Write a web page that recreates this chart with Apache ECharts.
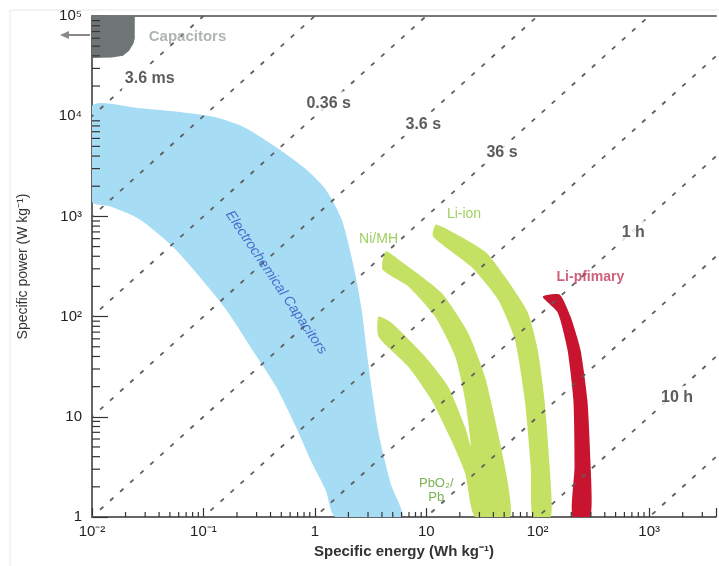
<!DOCTYPE html>
<html>
<head>
<meta charset="utf-8">
<script src="https://cdn.jsdelivr.net/npm/echarts@6/dist/echarts.min.js"></script>
<style>html,body{margin:0;padding:0;background:#fff}#c{width:719px;height:566px}</style>
</head>
<body>
<div id="c"></div>
<script>
// ---- axis tick labels ----
const xTickLabels = ['10\u207B\u00B2', '10\u207B\u00B9', '1', '10', '10\u00B2', '10\u00B3'];
const xTickExp0 = -2;
const yTickLabels = ['1', '10', '10\u00B2', '10\u00B3', '10\u2074', '10\u2075'];
const yTickExp0 = 0;
const minorMultipliers = [2, 3, 4, 5, 6, 7, 8, 9];
const xDecades = [0.01, 0.1, 1, 10, 100, 1000];
const yDecades = [1, 10, 100, 1000, 10000];

// ---- constant-time lines (hours) ----
const timeLinesH = [1e-6, 1e-5, 1e-4, 1e-3, 1e-2, 1e-1, 1, 10, 100, 1000];
const timeLabelText = ['3.6 ms', '0.36 s', '3.6 s', '36 s', '1 h', '10 h'];
const timeLabelE = [0.033, 1.33, 9.4, 47.8, 720, 1780];
const timeLabelP = [24000, 13500, 8300, 4370, 690, 15.5];

// ---- regions (specific energy Wh/kg, specific power W/kg) ----
const capE = [0.01, 0.0242, 0.0242, 0.0235, 0.0215, 0.0190, 0.0150, 0.01];
const capP = [100000, 100000, 60000, 53000, 45000, 40000, 38500, 38000];

const ecE = [0.01, 0.0268, 0.0611, 0.125, 0.232, 0.477, 0.832, 1.25, 1.74, 2.23, 2.63, 3.04, 3.73, 4.77, 5.98,
             1.54, 1.25, 0.94, 0.676, 0.449, 0.274, 0.160, 0.092, 0.0528, 0.0268, 0.0145, 0.01];
const ecP = [12600, 12000, 11000, 9800, 7760, 4680, 2950, 1860, 933, 316, 117, 31.6, 6.9, 2.19, 1,
             1, 1.86, 3.47, 7.94, 20, 46.8, 117, 251, 501, 933, 1260, 1410];

const nimhE = [4.31, 5.62, 13.6, 23.7, 33.6, 44.0, 54.0, 56.2, 27.4, 22.3, 16.7, 11.1, 6.9, 3.73,
               3.73, 4.87, 9.8, 15.7, 22.3, 25.2, 22.3, 18.2, 12.0, 6.9, 4.05];
const nimhP = [447, 372, 174, 69, 25.1, 6.9, 2.19, 1, 1, 2.75, 5.9, 14.8, 31.6, 63,
               100, 87, 39.8, 20, 7.9, 5.0, 14.8, 39.8, 100, 200, 295];

const liionE = [12.3, 33.6, 50.7, 81.5, 100, 115, 128, 131, 90.2, 86.6, 76.5, 62.4, 44, 25.2, 11.5];
const liionP = [832, 447, 251, 110, 46.8, 14.8, 3.16, 1, 1, 3.16, 14.8, 58.9, 148, 316, 631];

const liprimE = [111, 157, 197, 242, 279, 297, 297, 205, 214, 209, 185, 151];
const liprimP = [158, 166, 100, 46.8, 14.8, 3.72, 1, 1, 3.16, 14.8, 46.8, 110];

// ---- region labels ----
const regionLabelText = ['Capacitors', 'Electrochemical Capacitors', 'Ni/MH', 'Li-ion', 'Li-pfimary', 'PbO\u2082/\nPb'];
const regionLabelE = [0.072, 0.449, 3.73, 21.8, 297, 12.3];
const regionLabelP = [61700, 219, 589, 1047, 245, 1.86];

const FONT = '"Liberation Sans", Arial, Helvetica, sans-serif';

function tickFmt(labels, e0) {
  return function (v) {
    const e = Math.log10(v);
    const r = Math.round(e);
    if (Math.abs(e - r) > 1e-6) return '';
    return labels[r - e0] || '';
  };
}

function polySeries(name, E, P, color, smooth) {
  return {
    type: 'custom', name: name, coordinateSystem: 'cartesian2d', silent: true, z: 1, clip: true,
    data: E.map((e, i) => [e, P[i]]),
    renderItem: function (params, api) {
      if (params.dataIndex !== 0) return;
      const pts = E.map((e, i) => api.coord([e, P[i]]));
      return { type: 'polygon', shape: { points: pts, smooth: smooth || 0 }, style: { fill: color } };
    }
  };
}

const xMin = xDecades[0], xMax = Math.pow(10, 3.6);
const yMin = yDecades[0], yMax = 100000;

const series = [];
series.push(polySeries('Capacitors', capE, capP, '#6f7575', 0));
series.push(polySeries('Electrochemical Capacitors', ecE, ecP, '#a6dcf4', 0.25));
series.push(polySeries('Ni/MH', nimhE, nimhP, '#c5e164', 0.2));
series.push(polySeries('Li-ion', liionE, liionP, '#c5e164', 0.2));
series.push(polySeries('Li-primary', liprimE, liprimP, '#c8142f', 0.2));

// constant-time lines: P = E / t
timeLinesH.forEach(function (t) {
  series.push({
    type: 'line', silent: true, z: 3, symbol: 'none', clip: true,
    data: [[1e-4, 1e-4 / t], [1e6, 1e6 / t]],
    lineStyle: { color: '#5f5f5f', width: 1.8, type: [4.5, 9] }
  });
});

// minor ticks (x axis, bottom)
const xMinor = [];
xDecades.forEach(d => minorMultipliers.forEach(m => { if (m * d < xMax) xMinor.push([m * d, yMin]); }));
series.push({
  type: 'custom', coordinateSystem: 'cartesian2d', silent: true, z: 5, clip: false,
  data: xMinor,
  renderItem: function (params, api) {
    const p = api.coord([api.value(0), api.value(1)]);
    return { type: 'line', shape: { x1: p[0], y1: p[1], x2: p[0], y2: p[1] - 5 }, style: { stroke: '#333', lineWidth: 1.2 } };
  }
});
const yMinor = [];
yDecades.forEach(d => minorMultipliers.forEach(m => { yMinor.push([xMin, m * d]); }));
series.push({
  type: 'custom', coordinateSystem: 'cartesian2d', silent: true, z: 5, clip: false,
  data: yMinor,
  renderItem: function (params, api) {
    const p = api.coord([api.value(0), api.value(1)]);
    return { type: 'line', shape: { x1: p[0], y1: p[1], x2: p[0] + 8, y2: p[1] }, style: { stroke: '#333', lineWidth: 1.2 } };
  }
});

// time labels
series.push({
  type: 'scatter', silent: true, z: 6, symbolSize: 0,
  data: timeLabelText.map((s, i) => ({ name: s, value: [timeLabelE[i], timeLabelP[i]] })),
  label: {
    show: true, position: 'inside', formatter: '{b}', color: '#333', fontSize: 16, fontWeight: 'bold',
    fontFamily: FONT, backgroundColor: '#fff', padding: [4, 3]
  }
});

// region labels
const regionStyles = [
  { color: '#9aa3a3', fontSize: 15, fontWeight: 'bold' },
  { color: '#2f52c6', fontSize: 14, fontStyle: 'italic', rotate: -56 },
  { color: '#86c43a', fontSize: 14 },
  { color: '#86c43a', fontSize: 14 },
  { color: '#c23a58', fontSize: 14, fontWeight: 'bold' },
  { color: '#5aa02c', fontSize: 13, lineHeight: 14 }
];
series.push({
  type: 'scatter', silent: true, z: 7, symbolSize: 0,
  data: regionLabelText.map((s, i) => ({
    name: s, value: [regionLabelE[i], regionLabelP[i]],
    label: Object.assign({ show: true, position: 'inside', formatter: '{b}', fontFamily: FONT }, regionStyles[i])
  }))
});

const chart = echarts.init(document.getElementById('c'), null, { renderer: 'canvas' });
chart.setOption({
  animation: false,
  backgroundColor: '#fff',
  grid: { left: 92, right: 0, top: 16, bottom: 49 },
  xAxis: [{
    type: 'log', logBase: 10, min: xMin, max: xMax,
    name: 'Specific energy (Wh kg\u207B\u00B9)', nameLocation: 'middle', nameGap: 27,
    nameTextStyle: { fontFamily: FONT, fontSize: 15, fontWeight: 'bold', color: '#333' },
    axisLine: { show: true, lineStyle: { color: '#333', width: 1.5 } },
    axisTick: { show: true, inside: true, length: 9, lineStyle: { color: '#333', width: 1.2 } },
    axisLabel: { formatter: tickFmt(xTickLabels, xTickExp0), fontFamily: FONT, fontSize: 15, color: '#222', margin: 7 },
    splitLine: { show: false }, minorTick: { show: false }
  }, {
    type: 'log', logBase: 10, min: xMin, max: xMax, position: 'top',
    axisLine: { show: true, lineStyle: { color: '#777', width: 2 } },
    axisTick: { show: false }, axisLabel: { show: false }, splitLine: { show: false }
  }],
  yAxis: {
    type: 'log', logBase: 10, min: yMin, max: yMax,
    name: 'Specific power (W kg\u207B\u00B9)', nameLocation: 'middle', nameGap: 62, nameRotate: 90,
    nameTextStyle: { fontFamily: FONT, fontSize: 14, color: '#333' },
    axisLine: { show: true, lineStyle: { color: '#333', width: 1.5 } },
    axisTick: { show: true, inside: true, length: 16, lineStyle: { color: '#333', width: 1.2 } },
    axisLabel: { formatter: tickFmt(yTickLabels, yTickExp0), fontFamily: FONT, fontSize: 15, color: '#222', margin: 10 },
    splitLine: { show: false }
  },
  graphic: [
    { type: 'rect', shape: { x: 10, y: 10, width: 720, height: 570 }, style: { fill: 'none', stroke: '#e8e8e8', lineWidth: 1 }, silent: true },
    { type: 'line', shape: { x1: 90, y1: 35, x2: 66, y2: 35 }, style: { stroke: '#888', lineWidth: 2 }, silent: true },
    { type: 'polygon', shape: { points: [[60, 35], [69, 31], [69, 39]] }, style: { fill: '#888' }, silent: true }
  ],
  series: series
});
</script>
</body>
</html>
